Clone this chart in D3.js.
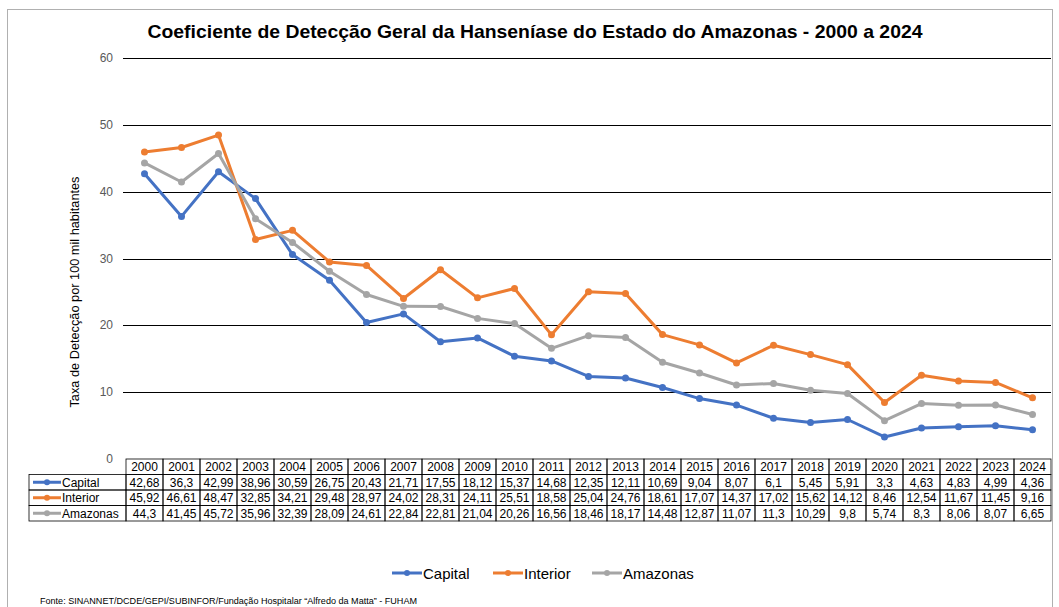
<!DOCTYPE html>
<html><head><meta charset="utf-8">
<script src="https://cdn.jsdelivr.net/npm/d3@7"></script>
<style>body{margin:0;background:#fff;} svg{display:block;font-family:"Liberation Sans",Arial,sans-serif;}</style>
</head><body>
<svg id="c" width="1059" height="607"></svg>
<script>
const years = ["2000","2001","2002","2003","2004","2005","2006","2007","2008","2009","2010","2011","2012","2013","2014","2015","2016","2017","2018","2019","2020","2021","2022","2023","2024"];
const capital = [42.68,36.3,42.99,38.96,30.59,26.75,20.43,21.71,17.55,18.12,15.37,14.68,12.35,12.11,10.69,9.04,8.07,6.1,5.45,5.91,3.3,4.63,4.83,4.99,4.36];
const interior = [45.92,46.61,48.47,32.85,34.21,29.48,28.97,24.02,28.31,24.11,25.51,18.58,25.04,24.76,18.61,17.07,14.37,17.02,15.62,14.12,8.46,12.54,11.67,11.45,9.16];
const amazonas = [44.3,41.45,45.72,35.96,32.39,28.09,24.61,22.84,22.81,21.04,20.26,16.56,18.46,18.17,14.48,12.87,11.07,11.3,10.29,9.8,5.74,8.3,8.06,8.07,6.65];
const yTicks = [0,10,20,30,40,50,60];
const seriesNames = ["Capital","Interior","Amazonas"];
const colors = ["#4472C4","#ED7D31","#A5A5A5"];
const seriesVals = [capital, interior, amazonas];

const svg = d3.select("#c");
// outer frame
svg.append("rect").attr("x",7.5).attr("y",9.5).attr("width",1045).attr("height",610).attr("fill","none").attr("stroke","#b0b0b0");

const L = 126, R = 1051, T = 58, B = 459;
const x = d3.scaleBand().domain(years).range([L,R]).padding(0);
const y = d3.scaleLinear().domain([0,60]).range([B,T]);

// gridlines
svg.append("g").selectAll("line").data(yTicks.filter(d=>d>0)).join("line")
  .attr("x1",123).attr("x2",R).attr("y1",d=>Math.round(y(d))+0.5).attr("y2",d=>Math.round(y(d))+0.5)
  .attr("stroke","#000").attr("stroke-width",1);
svg.append("g").selectAll("text").data(yTicks).join("text")
  .attr("x",113).attr("y",d=>y(d)+4).attr("text-anchor","end").attr("font-size",12).attr("fill","#595959").text(d=>d);

// title
svg.append("text").attr("x",535).attr("y",38).attr("text-anchor","middle").attr("font-size",19).attr("font-weight","bold").attr("fill","#000")
  .attr("textLength",775).attr("lengthAdjust","spacingAndGlyphs")
  .text("Coeficiente de Detecção Geral da Hanseníase do Estado do Amazonas - 2000 a 2024");

// y-axis title
svg.append("text").attr("transform","translate(79,292) rotate(-90)").attr("text-anchor","middle").attr("font-size",12.5).attr("fill","#000")
  .attr("textLength",231).attr("lengthAdjust","spacingAndGlyphs")
  .text("Taxa de Detecção por 100 mil habitantes");

// lines
const cx = d => x(d) + x.bandwidth()/2;
seriesVals.forEach((vals,i)=>{
  const g = svg.append("g");
  const line = d3.line().x((d,j)=>cx(years[j])).y(d=>y(d));
  g.append("path").datum(vals).attr("d",line).attr("fill","none").attr("stroke",colors[i]).attr("stroke-width",3).attr("stroke-linejoin","round");
  g.selectAll("circle").data(vals).join("circle").attr("cx",(d,j)=>cx(years[j])).attr("cy",d=>y(d)).attr("r",3.5).attr("fill",colors[i]);
});

// data table
const rowTop = B, rowH = 15.5, tableLeft = 29;
const tg = svg.append("g").attr("font-size",12).attr("fill","#000");
const fmt = v => String(v).replace(".",",");
years.forEach(yr=>{
  tg.append("rect").attr("x",x(yr)).attr("y",rowTop).attr("width",x.bandwidth()).attr("height",rowH).attr("fill","none").attr("stroke","#000").attr("stroke-width",0.8);
  tg.append("text").attr("x",cx(yr)).attr("y",rowTop+12).attr("text-anchor","middle").text(yr);
});
seriesNames.forEach((nm,i)=>{
  const ry = rowTop + rowH*(i+1);
  tg.append("rect").attr("x",tableLeft).attr("y",ry).attr("width",L-tableLeft).attr("height",rowH).attr("fill","none").attr("stroke","#000").attr("stroke-width",0.8);
  tg.append("line").attr("x1",tableLeft+4).attr("x2",tableLeft+32).attr("y1",ry+rowH/2).attr("y2",ry+rowH/2).attr("stroke",colors[i]).attr("stroke-width",3);
  tg.append("circle").attr("cx",tableLeft+18).attr("cy",ry+rowH/2).attr("r",3).attr("fill",colors[i]);
  tg.append("text").attr("x",tableLeft+33).attr("y",ry+12).text(nm);
  seriesVals[i].forEach((v,j)=>{
    tg.append("rect").attr("x",x(years[j])).attr("y",ry).attr("width",x.bandwidth()).attr("height",rowH).attr("fill","none").attr("stroke","#000").attr("stroke-width",0.8);
    tg.append("text").attr("x",cx(years[j])).attr("y",ry+12).attr("text-anchor","middle").text(fmt(v));
  });
});

// legend
const lg = svg.append("g").attr("font-size",15).attr("fill","#000");
const legX = [392, 493, 592];
seriesNames.forEach((nm,i)=>{
  const lx = legX[i], ly = 573;
  lg.append("line").attr("x1",lx).attr("x2",lx+30).attr("y1",ly).attr("y2",ly).attr("stroke",colors[i]).attr("stroke-width",3);
  lg.append("circle").attr("cx",lx+15).attr("cy",ly).attr("r",3).attr("fill",colors[i]);
  lg.append("text").attr("x",lx+31).attr("y",ly+5.5).text(nm);
});

// source
svg.append("text").attr("x",40).attr("y",604).attr("font-size",8.5).attr("fill","#000").attr("textLength",377).attr("lengthAdjust","spacingAndGlyphs")
  .text("Fonte: SINANNET/DCDE/GEPI/SUBINFOR/Fundação Hospitalar \u201cAlfredo da Matta\u201d - FUHAM");
</script>
</body></html>
